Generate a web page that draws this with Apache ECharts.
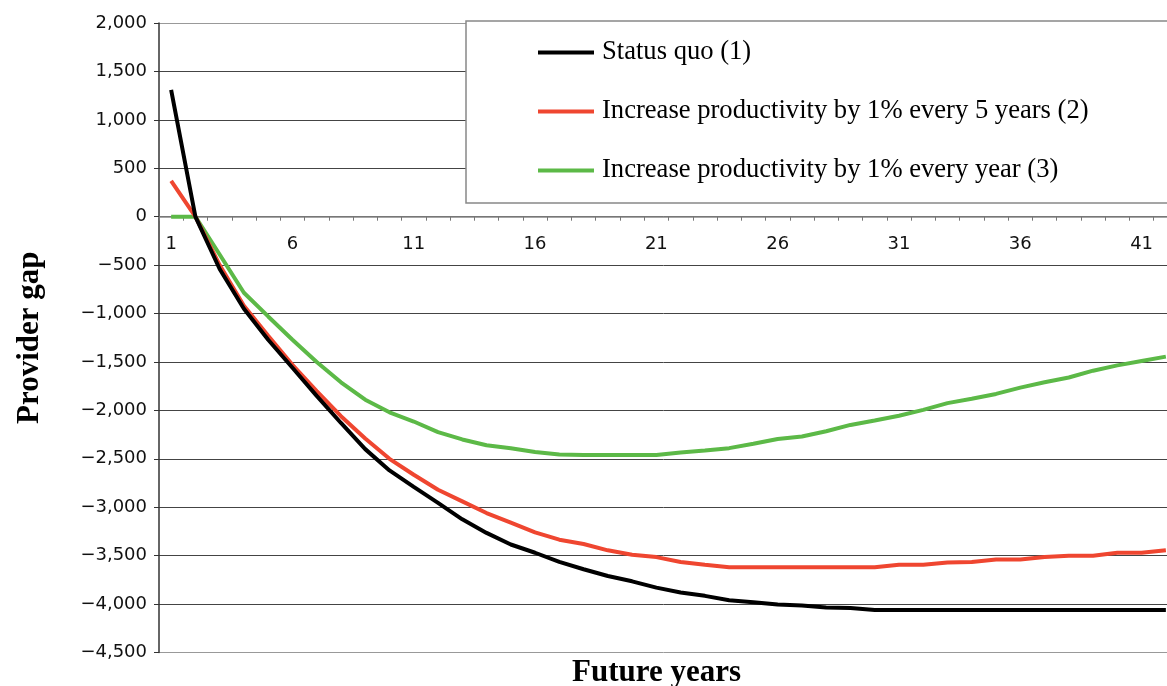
<!DOCTYPE html>
<html>
<head>
<meta charset="utf-8">
<script src="https://cdn.jsdelivr.net/npm/echarts@6/dist/echarts.min.js"></script>
<style>html,body{margin:0;padding:0;background:#fff}#c{width:1167px;height:686px}</style>
</head>
<body>
<div id="c"></div>
<script>
const years = Array.from({length: 42}, (_, i) => String(i + 1));
const seriesNames = ['Status quo (1)', 'Increase productivity by 1% every 5 years (2)', 'Increase productivity by 1% every year (3)'];
const statusQuo = [1310, 0, -540, -950, -1270, -1560, -1850, -2130, -2400, -2620, -2790, -2955, -3125, -3265, -3385, -3470, -3565, -3640, -3710, -3765, -3830, -3880, -3915, -3960, -3980, -4005, -4015, -4035, -4040, -4060, -4060, -4060, -4060, -4060, -4060, -4060, -4060, -4060, -4060, -4060, -4060, -4060];
const every5Years = [370, 0, -500, -920, -1230, -1530, -1800, -2060, -2290, -2500, -2665, -2820, -2940, -3060, -3160, -3260, -3335, -3380, -3445, -3490, -3515, -3565, -3595, -3620, -3620, -3620, -3620, -3620, -3620, -3620, -3595, -3595, -3570, -3565, -3540, -3540, -3515, -3500, -3500, -3470, -3470, -3445];
const everyYear = [0, 0, -390, -785, -1030, -1270, -1500, -1710, -1890, -2020, -2115, -2225, -2300, -2360, -2390, -2430, -2455, -2460, -2460, -2460, -2460, -2435, -2415, -2390, -2345, -2295, -2270, -2215, -2150, -2105, -2055, -1995, -1925, -1880, -1830, -1765, -1710, -1660, -1590, -1535, -1490, -1445];
const colors = ['#000000', '#EF4630', '#5CB947'];

const chart = echarts.init(document.getElementById('c'));
const fmt = v => (v < 0 ? '\u2212' : '') + Math.abs(v).toLocaleString('en-US');
const splitColors = ['#999'];
for (let i = 0; i < 12; i++) splitColors.push('#444');
splitColors.push('#999');

chart.setOption({
  animation: false,
  backgroundColor: '#fff',
  title: {
    text: 'Future years', left: 572, top: 657, padding: 0,
    textStyle: { fontFamily: 'Liberation Serif', fontWeight: 'bold', fontSize: 31, color: '#000', lineHeight: 31 }
  },
  legend: {
    orient: 'vertical', left: 466, top: 21,
    padding: [18, 100, 19, 72],
    itemGap: 32,
    itemWidth: 56, itemHeight: 4, icon: 'rect',
    backgroundColor: '#fff', borderColor: '#888', borderWidth: 1.5,
    textStyle: { fontFamily: 'Liberation Serif', fontSize: 26.6, color: '#000', lineHeight: 27, padding: [0, 0, 0, 3] },
    data: seriesNames
  },
  grid: { left: 159, top: 23, width: 1019, height: 629.5, show: false, outerBoundsMode: 'none', containLabel: false },
  xAxis: {
    type: 'category', data: years, boundaryGap: true,
    axisLine: { onZero: true, lineStyle: { color: '#888', width: 1.5 } },
    axisTick: { show: true, interval: 0, length: 4, lineStyle: { color: '#777' } },
    axisLabel: { interval: 4, margin: -417, fontFamily: 'DejaVu Sans', fontSize: 18, color: '#111' },
    splitLine: { show: false }
  },
  yAxis: {
    type: 'value', min: -4500, max: 2000, interval: 500,
    name: 'Provider gap', nameLocation: 'middle', nameGap: 114,
    nameTextStyle: { fontFamily: 'Liberation Serif', fontWeight: 'bold', fontSize: 31, color: '#000' },
    axisLine: { show: true, lineStyle: { color: '#333', width: 1.5 } },
    axisTick: { show: true, length: 5, lineStyle: { color: '#333' } },
    axisLabel: { margin: 12, fontFamily: 'DejaVu Sans', fontSize: 18, color: '#111', formatter: fmt },
    splitLine: { show: true, lineStyle: { color: splitColors, width: 1 } }
  },
  series: [
    { name: seriesNames[2], type: 'line', data: everyYear, showSymbol: false, symbol: 'none', lineStyle: { color: colors[2], width: 4 }, itemStyle: { color: colors[2] }, z: 3 },
    { name: seriesNames[1], type: 'line', data: every5Years, showSymbol: false, symbol: 'none', lineStyle: { color: colors[1], width: 4 }, itemStyle: { color: colors[1] }, z: 4 },
    { name: seriesNames[0], type: 'line', data: statusQuo, showSymbol: false, symbol: 'none', lineStyle: { color: colors[0], width: 4 }, itemStyle: { color: colors[0] }, z: 5 }
  ]
});
</script>
</body>
</html>
